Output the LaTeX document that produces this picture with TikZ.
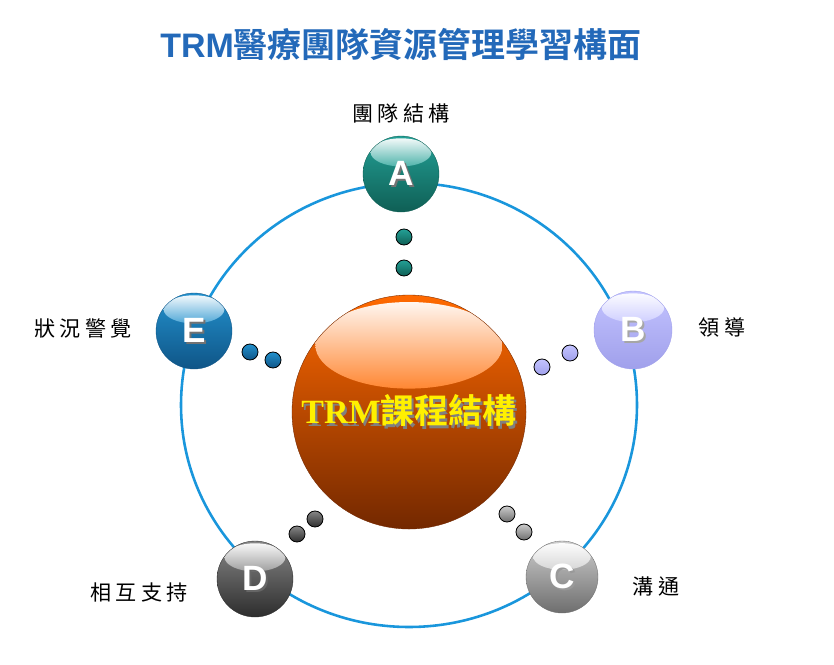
\documentclass[tikz,border=0pt]{standalone}
\usepackage{fontspec}
\setmainfont{Liberation Serif}
\setsansfont{Liberation Sans}
\newfontfamily\cjk{Noto Sans CJK TC}[BoldFont={Noto Sans CJK TC Bold}]
\newfontfamily\cjkspaced{Noto Sans CJK TC}[LetterSpace=20]
\usepackage{tikz}
\usetikzlibrary{calc}
\usetikzlibrary{positioning}

\definecolor{ringblue}{RGB}{25,150,220}
\definecolor{titleblue}{RGB}{35,105,185}
\definecolor{coretext}{RGB}{255,240,0}
\definecolor{coretop}{RGB}{255,105,0}
\definecolor{corebot}{RGB}{115,40,0}
\definecolor{atop}{RGB}{35,160,150}
\definecolor{abot}{RGB}{15,95,85}
\definecolor{btop}{RGB}{195,195,255}
\definecolor{bbot}{RGB}{160,160,235}
\definecolor{ctop}{RGB}{205,205,205}
\definecolor{cbot}{RGB}{110,110,110}
\definecolor{dtop}{RGB}{135,135,135}
\definecolor{dbot}{RGB}{45,45,45}
\definecolor{etop}{RGB}{35,145,205}
\definecolor{ebot}{RGB}{15,85,135}

% text with a small drop shadow
\newcommand{\shadowed}[3]{\leavevmode\rlap{\kern1.8pt\raisebox{-1.8pt}{\color{#1}#3}}{\color{#2}#3}}

\tikzset{
	sphere/.style n args={3}{
		circle,
		inner sep=0mm,
		minimum size=#3,
		draw=#2,
		line width=0.3pt,
		top color=#1,
		bottom color=#2,
		path picture={
			\shade[top color=white, bottom color=#1, middle color=#1]
				($(path picture bounding box.center)+(0,0.285*#3)$)
				ellipse [x radius=0.4*#3, y radius=0.185*#3];
		}
	},
	dot/.style 2 args={
		circle,
		inner sep=0mm,
		minimum size=0.48cm,
		draw=black,
		line width=0.7pt,
		top color=#1,
		bottom color=#2
	},
	letter/.style={
		font=\sffamily\bfseries\fontsize{30}{30}\selectfont
	},
	dimension/.style={
		font=\cjkspaced\fontsize{18}{20}\selectfont
	}
}

\begin{document}
\begin{tikzpicture}[
		x=0.03cm,
		y=-0.03cm,
	]

	% Fix the canvas
	\useasboundingbox (0,0) rectangle (834,664);

	% Draw the title
	\node (title) [text=titleblue, font=\fontsize{29}{32}\selectfont] at (401,44)
		{\sffamily\bfseries TRM{\cjk\bfseries 醫療團隊資源管理學習構面}};

	% Draw the ring
	\coordinate (O) at (409,405);
	\draw[ringblue, line width=2.2pt] (O) ellipse [x radius=228, y radius=222];

	% Draw the core
	\node (core) [sphere={coretop}{corebot}{7.02cm}, font=\bfseries\fontsize{29}{31}\selectfont] at (409,412)
		{\shadowed{black!50}{coretext}{TRM{\cjk\bfseries 課程結構}}};

	% Draw the five dimensions
	\node (A) [sphere={atop}{abot}{2.28cm}, letter] at (401,174) {\shadowed{black!55}{white}{A}};
	\node (B) [sphere={btop}{bbot}{2.34cm}, letter] at (633,330) {\shadowed{black!35}{white}{B}};
	\node (C) [sphere={ctop}{cbot}{2.16cm}, letter] at (562,577) {\shadowed{black!40}{white}{C}};
	\node (D) [sphere={dtop}{dbot}{2.28cm}, letter] at (255,579) {\shadowed{black!60}{white}{D}};
	\node (E) [sphere={etop}{ebot}{2.28cm}, letter] at (194,331) {\shadowed{black!55}{white}{E}};

	% Draw the dots between core and dimensions
	\foreach \n/\x/\y/\t/\b in {
			a1/404/237/atop/abot, a2/404/268/atop/abot,
			b1/570/353/btop/bbot, b2/542/367/btop/bbot,
			c1/507/514/ctop/cbot, c2/524/532/ctop/cbot,
			d1/315/519/dtop/dbot, d2/297/534/dtop/dbot,
			e1/250/352/etop/ebot, e2/273/360/etop/ebot}
		\node (\n) [dot={\t}{\b}] at (\x,\y) {};

	% Draw the labels
	\node (la) [dimension] at (401,113) {團隊結構};
	\node (lb) [dimension] at (722,327) {領導};
	\node (lc) [dimension] at (656,586) {溝通};
	\node (ld) [dimension] at (139,592) {相互支持};
	\node (le) [dimension] at (83,328) {狀況警覺};

\end{tikzpicture}
\end{document}
